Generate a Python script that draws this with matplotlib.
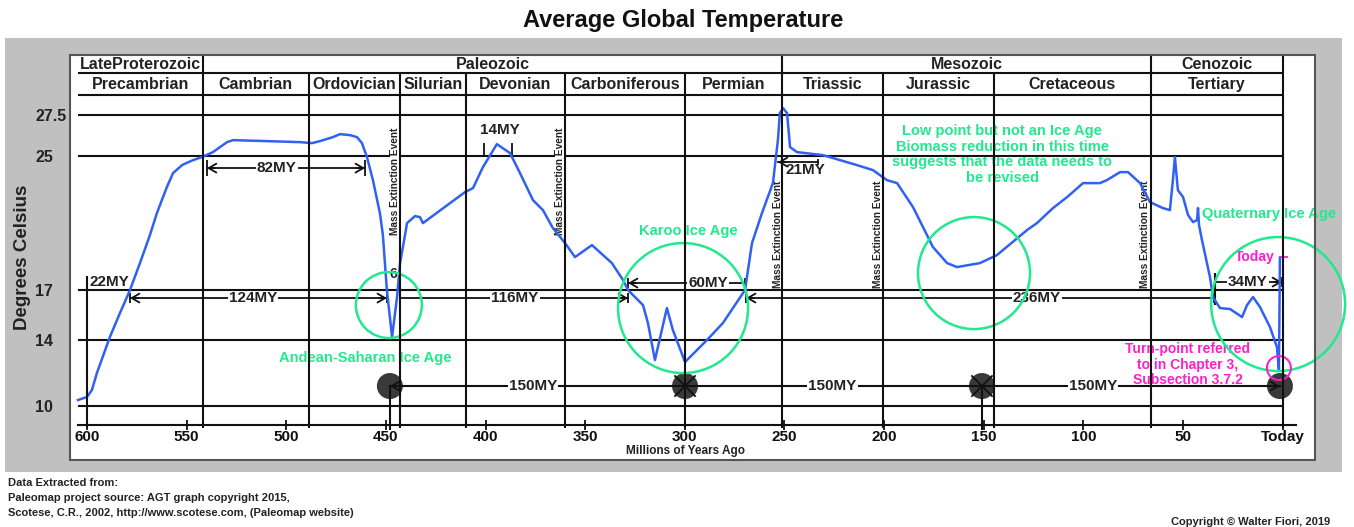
"""Average Global Temperature over the last 600 million years (paleomap style chart)."""

import matplotlib

matplotlib.use("Agg")
import matplotlib.pyplot as plt
from matplotlib.patches import Ellipse, Rectangle

plt.rcParams["font.family"] = ["Liberation Sans", "DejaVu Sans"]

# ---------------------------------------------------------------- data
# temperature curve (age in millions of years ago, deg C)
AGE_MY = [604.5, 600.0, 597.5, 595.0, 588.5, 583.4, 578.4, 573.4, 568.4, 564.9,
          559.9, 556.8, 552.3, 546.8, 542.3, 536.8, 529.7, 526.7, 509.7, 493.1,
          487.1, 483.1, 476.6, 473.0, 468.0, 464.5, 462.0, 459.5, 456.5, 453.0,
          451.5, 449.5, 446.9, 444.4, 442.9, 440.4, 439.4, 435.4, 432.9, 431.4,
          417.8, 410.3, 406.3, 401.3, 394.3, 387.7, 382.7, 376.2, 371.2, 366.2,
          360.1, 355.1, 346.6, 336.6, 331.0, 328.5, 321.0, 318.5, 315.0, 309.0,
          306.0, 299.9, 288.9, 280.9, 269.8, 268.3, 266.3, 261.3, 255.8, 253.3,
          252.3, 250.7, 248.7, 247.2, 243.7, 230.7, 213.6, 205.6, 198.6, 193.5,
          185.5, 175.5, 168.4, 163.4, 151.9, 143.4, 128.3, 123.3, 115.3, 108.2,
          100.2, 91.7, 88.2, 81.6, 77.6, 71.6, 66.6, 60.1, 56.6, 55.1,
          54.1, 52.6, 50.0, 47.5, 45.0, 43.0, 42.5, 42.0, 40.5, 36.5,
          35.0, 31.5, 26.4, 20.4, 17.9, 14.9, 11.4, 6.4, 2.9, 1.9, 1.4]
TEMP_C = [10.37, 10.55, 10.97, 11.99, 14.15, 15.60, 16.97, 18.59, 20.27, 21.59,
          23.15, 23.99, 24.47, 24.77, 24.95, 25.25, 25.85, 25.97, 25.91, 25.85,
          25.79, 25.91, 26.15, 26.33, 26.27, 26.15, 25.79, 24.95, 23.57, 21.59,
          20.27, 16.97, 14.15, 16.55, 18.59, 20.27, 20.99, 21.41, 21.35, 20.99,
          22.19, 22.85, 23.09, 24.35, 25.73, 25.19, 23.99, 22.37, 21.77, 20.69,
          19.79, 18.95, 19.67, 18.59, 17.57, 16.97, 16.07, 14.99, 12.77, 15.89,
          14.57, 12.65, 13.97, 14.99, 16.97, 18.17, 19.79, 21.59, 23.39, 25.97,
          27.59, 27.89, 27.59, 25.55, 25.25, 25.07, 24.47, 24.17, 23.57, 23.39,
          21.95, 19.55, 18.59, 18.35, 18.59, 19.07, 20.57, 20.99, 21.89, 22.55,
          23.39, 23.39, 23.57, 24.05, 24.05, 23.39, 22.25, 21.89, 21.77, 23.57,
          24.95, 22.97, 22.55, 21.47, 21.05, 21.17, 21.89, 20.87, 19.97, 17.75,
          16.55, 15.89, 15.83, 15.35, 16.07, 16.55, 15.95, 14.75, 13.55, 12.17, 18.89]

TEMP_TICKS = [10, 14, 17, 25, 27.5]
TEMP_TICK_LABELS = ["10", "14", "17", "25", "27.5"]
AGE_TICKS = [600, 550, 500, 450, 400, 350, 300, 250, 200, 150, 100, 50, 0]
AGE_TICK_LABELS = ["600", "550", "500", "450", "400", "350", "300",
                   "250", "200", "150", "100", "50", "Today"]

ERAS = ["LateProterozoic", "Paleozoic", "Mesozoic", "Cenozoic"]
ERA_BOUNDS = [604.5, 542, 251, 66, 0]
PERIODS = ["Precambrian", "Cambrian", "Ordovician", "Silurian", "Devonian",
           "Carboniferous", "Permian", "Triassic", "Jurassic", "Cretaceous", "Tertiary"]
PERIOD_BOUNDS = [604.5, 542, 488.6, 443, 410, 360, 300, 251, 200.6, 145, 66, 0]

EXTINCTION_AGES = [445.4, 362.6, 253.3, 203.1, 69.1]
EXTINCTION_TEMPS = [23.5, 23.5, 20.3, 20.3, 20.3]

# duration spans drawn as arrows
SPAN_LABELS = ["82MY", "124MY", "116MY", "60MY", "236MY", "34MY"]
SPAN_START = [539.8, 578.4, 442.9, 328.5, 269.3, 33.9]
SPAN_END = [460.5, 449.5, 328.5, 269.8, 34.4, 0.35]
SPAN_TEMP = [24.29, 16.49, 16.49, 17.39, 16.49, 17.45]
SPAN_LABEL_AGE = [504.7, 516.7, 385.2, 288.4, 123.3, 17.4]

# 150 MY cycle markers
CYCLE_AGES = [448.0, 299.9, 150.9, 1.4]
CYCLE_TEMP = 11.21
CYCLE_LABEL_AGES = [376.2, 226.0, 95.3]

# ice ages (green rings) and the turn point (magenta ring)
ICE_AGES = [448.5, 300.9, 154.9, 2.3]
ICE_TEMPS = [16.07, 15.89, 17.99, 16.13]
ICE_RADII_PX = [33, 65, 56, 67]
TURN_AGE, TURN_TEMP = 1.9, 12.29

# ---------------------------------------------------------------- layout
FIG_W, FIG_H, DPI = 1354, 527, 100
BOX = (70, 55, 1315, 460)          # white panel in pixels (l, t, r, b)
XLIM = (608.5, -16.2)
YLIM = (6.77, 31.08)
AXIS_TEMP = 8.87                   # x-axis baseline
ERA_ROW_LOW, PERIOD_ROW_LOW = 30.0, 28.7
ERA_TEXT_Y, PERIOD_TEXT_Y = 30.53, 29.28
LEFT_EDGE = 604.5

INK = "#111111"
BLUE = "#3161f2"
GREEN = "#22e88e"
MAGENTA = "#ff1ec8"

PX_X = (BOX[2] - BOX[0]) / (XLIM[0] - XLIM[1])
PX_Y = (BOX[3] - BOX[1]) / (YLIM[1] - YLIM[0])


def ring(ax, age, temp, r_px, color, lw=1.8, z=5.5):
    ax.add_patch(Ellipse((age, temp), 2 * r_px / PX_X, 2 * r_px / PX_Y,
                         fill=False, edgecolor=color, lw=lw, zorder=z, clip_on=False))


def arrowhead(ax, age, temp, toward):
    """Open arrowhead with its tip at (age, temp); toward = age the tail points to."""
    tail = age + (4 if toward > age else -4)
    ax.annotate("", xy=(age, temp), xytext=(tail, temp),
                arrowprops=dict(arrowstyle="->,head_length=0.55,head_width=0.32",
                                color=INK, lw=1.3, shrinkA=0, shrinkB=0,
                                mutation_scale=10), zorder=3)


def main() -> None:
    fig = plt.figure(figsize=(FIG_W / DPI, FIG_H / DPI), dpi=DPI)
    fig.patch.set_facecolor("white")
    fig.add_artist(Rectangle((5 / FIG_W, 1 - 472 / FIG_H), 1337 / FIG_W, 434 / FIG_H,
                             transform=fig.transFigure, facecolor="#c0c0c0",
                             edgecolor="none", zorder=-1))

    ax = fig.add_axes([BOX[0] / FIG_W, 1 - BOX[3] / FIG_H,
                       (BOX[2] - BOX[0]) / FIG_W, (BOX[3] - BOX[1]) / FIG_H])
    ax.set_facecolor("white")
    ax.set_xlim(*XLIM)
    ax.set_ylim(*YLIM)
    ax.add_patch(Rectangle((0, 0), 1, 1, transform=ax.transAxes, fill=False,
                           edgecolor="#555555", lw=1.5, clip_on=False, zorder=8))

    for side in ("top", "right", "left"):
        ax.spines[side].set_visible(False)
    ax.spines["bottom"].set_position(("data", AXIS_TEMP))
    ax.spines["bottom"].set_bounds(LEFT_EDGE, -6.5)
    ax.spines["bottom"].set_linewidth(1.5)
    ax.spines["bottom"].set_color(INK)

    ax.set_xticks(AGE_TICKS, AGE_TICK_LABELS)
    ax.tick_params(axis="x", direction="inout", length=7, width=1.3, pad=0,
                   labelsize=11, colors=INK)
    ax.set_yticks(TEMP_TICKS, TEMP_TICK_LABELS)
    ax.tick_params(axis="y", length=0, pad=25, labelsize=11.5, labelcolor="#222222")
    for lbl in ax.get_xticklabels():
        lbl.set_fontweight("bold")
    for lbl in ax.get_yticklabels():
        lbl.set_fontweight("bold")
        lbl.set_horizontalalignment("left")

    ax.set_ylabel("Degrees Celsius", fontsize=13.5, fontweight="bold", color="#222222")
    ax.yaxis.set_label_coords(-0.031, 0.5)
    ax.set_xlabel("Millions of Years Ago", fontsize=8.5, fontweight="bold", color="#222222")
    ax.xaxis.set_label_coords(0.494, 0.037)

    # grid rows and header rows
    ax.hlines(TEMP_TICKS + [ERA_ROW_LOW, PERIOD_ROW_LOW], 0, LEFT_EDGE,
              color=INK, lw=1.5, zorder=4)
    for b in PERIOD_BOUNDS[1:]:
        top = YLIM[1] if b in ERA_BOUNDS else ERA_ROW_LOW
        ax.vlines(b, 8.7, top, color=INK, lw=1.5, zorder=6)

    for name, a0, a1 in zip(ERAS, ERA_BOUNDS[:-1], ERA_BOUNDS[1:]):
        ax.text((a0 + a1) / 2, ERA_TEXT_Y, name, ha="center", va="center",
                fontsize=11.5, fontweight="bold", color="#222222", zorder=7)
    for name, a0, a1 in zip(PERIODS, PERIOD_BOUNDS[:-1], PERIOD_BOUNDS[1:]):
        ax.text((a0 + a1) / 2, PERIOD_TEXT_Y, name, ha="center", va="center",
                fontsize=11.5, fontweight="bold", color="#222222", zorder=7)

    for age, temp in zip(EXTINCTION_AGES, EXTINCTION_TEMPS):
        ax.text(age, temp, "Mass Extinction Event", rotation=90, ha="center",
                va="center", fontsize=7.3, fontweight="bold", color="#222222", zorder=4.5,
                bbox=dict(facecolor="white", edgecolor="none", pad=0.3))

    # the temperature curve
    ax.plot(AGE_MY, TEMP_C, color=BLUE, lw=1.8, zorder=5, solid_joinstyle="round")

    # duration spans
    bar = 0.3
    for lab, a0, a1, t, la in zip(SPAN_LABELS, SPAN_START, SPAN_END,
                                  SPAN_TEMP, SPAN_LABEL_AGE):
        ax.plot([a0, a1], [t, t], color=INK, lw=1.3, zorder=3)
        ax.text(la, t, lab, ha="center", va="center", fontsize=11, fontweight="bold",
                color="#222222", zorder=3.2,
                bbox=dict(facecolor="white", edgecolor="none", pad=0.8))
    ends = [("arrow", "arrow"), ("arrow", "arrow"), ("bar", "arrow"),
            ("arrow", "bar"), ("arrow", "bar"), ("bar", "arrow")]
    for (left, right), a0, a1, t in zip(ends, SPAN_START, SPAN_END, SPAN_TEMP):
        for kind, a, other in ((left, a0, a1), (right, a1, a0)):
            h = 0.5 if t > 24 else bar
            ax.vlines(a, t - h, t + h, color=INK, lw=1.3, zorder=3)
            if kind == "arrow":
                arrowhead(ax, a, t, other)
    ax.vlines(34.1, 16.07, 18.0, color=INK, lw=1.5, zorder=3)

    # 21MY, 14MY, 22MY, 6
    ax.plot([253.3, 233.2], [24.65, 24.65], color=INK, lw=1.3, zorder=3)
    arrowhead(ax, 253.3, 24.65, 233.2)
    ax.vlines(233.2, 24.47, 24.85, color=INK, lw=1.3, zorder=3)
    ax.text(239.7, 24.17, "21MY", ha="center", va="center", fontsize=11,
            fontweight="bold", color="#222222", zorder=3.2)
    ax.vlines([400.8, 386.7], 25.08, 25.8, color=INK, lw=1.3, zorder=3)
    ax.text(392.8, 26.57, "14MY", ha="center", va="center", fontsize=11,
            fontweight="bold", color="#222222", zorder=3.2)
    ax.vlines(600, 8.7, 17.81, color=INK, lw=1.5, zorder=6)
    ax.text(598.8, 17.45, "22MY", ha="left", va="center", fontsize=11,
            fontweight="bold", color="#222222", zorder=3.2)
    ax.text(446.4, 17.93, "6", ha="center", va="center", fontsize=10,
            fontweight="bold", color="#222222", zorder=3.2)

    # 150 MY cycle
    ax.plot([CYCLE_AGES[0], CYCLE_AGES[-1]], [CYCLE_TEMP, CYCLE_TEMP],
            color=INK, lw=1.5, zorder=3)
    for a in CYCLE_AGES:
        ax.add_patch(Ellipse((a, CYCLE_TEMP), 26 / PX_X, 26 / PX_Y,
                             facecolor="#3a3a3a", edgecolor="none", zorder=2.5))
    for a in CYCLE_AGES[1:3]:
        dx, dy = 10 / PX_X, 10 / PX_Y
        ax.plot([a - dx, a + dx], [CYCLE_TEMP + dy, CYCLE_TEMP - dy], color=INK, lw=1.3, zorder=3)
        ax.plot([a - dx, a + dx], [CYCLE_TEMP - dy, CYCLE_TEMP + dy], color=INK, lw=1.3, zorder=3)
    ax.vlines([CYCLE_AGES[0], CYCLE_AGES[2]], 8.6, CYCLE_TEMP, color=INK, lw=1.5, zorder=3)
    arrowhead(ax, CYCLE_AGES[0], CYCLE_TEMP, CYCLE_AGES[1])
    arrowhead(ax, CYCLE_AGES[-1], CYCLE_TEMP, CYCLE_AGES[2])
    for a in CYCLE_LABEL_AGES:
        ax.text(a, CYCLE_TEMP, "150MY", ha="center", va="center", fontsize=11,
                fontweight="bold", color="#222222", zorder=3.2,
                bbox=dict(facecolor="white", edgecolor="none", pad=0.8))

    # ice ages
    for a, t, r in zip(ICE_AGES, ICE_TEMPS, ICE_RADII_PX):
        ring(ax, a, t, r, GREEN)
    ring(ax, TURN_AGE, TURN_TEMP, 12, MAGENTA, lw=1.5)

    gkw = dict(color=GREEN, fontsize=10.5, fontweight="bold", zorder=3.5)
    ax.text(460.5, 12.89, "Andean-Saharan Ice Age", ha="center", va="center", **gkw)
    ax.text(298.4, 20.51, "Karoo Ice Age", ha="center", va="center", **gkw)
    ax.text(140.8, 25.1, "Low point but not an Ice Age\nBiomass reduction in this time\n"
            "suggests that the data needs to\nbe revised",
            ha="center", va="center", linespacing=1.15, **gkw)
    ax.text(40.4, 21.54, "Quaternary Ice Age", ha="left", va="center", **gkw)

    mkw = dict(color=MAGENTA, fontsize=10, fontweight="bold", zorder=3.5)
    ax.text(13.9, 18.95, "Today", ha="center", va="center", **mkw)
    ax.hlines(18.95, 1.9, -2.6, color=MAGENTA, lw=1.3, zorder=3.5)
    ax.text(47.6, 12.5, "Turn-point referred\nto in Chapter 3,\nSubsection 3.7.2",
            ha="center", va="center", linespacing=1.1, **mkw)

    # titles and credits
    fig.text(683 / FIG_W, 1 - 21 / FIG_H, "Average Global Temperature", ha="center",
             va="center", fontsize=17, fontweight="bold", color="#111111")
    for y, line in ((483, "Data Extracted from:"),
                    (498, "Paleomap project source: AGT graph copyright 2015,"),
                    (513, "Scotese, C.R., 2002, http://www.scotese.com, (Paleomap website)")):
        fig.text(8 / FIG_W, 1 - y / FIG_H, line, ha="left", va="center",
                 fontsize=8, fontweight="bold", color="#222222")
    fig.text(1330 / FIG_W, 1 - 522 / FIG_H, "Copyright \u00a9 Walter Fiori, 2019",
             ha="right", va="center", fontsize=8, fontweight="bold", color="#222222")

    fig.savefig("out.png", dpi=DPI, facecolor="white")


if __name__ == "__main__":
    main()
